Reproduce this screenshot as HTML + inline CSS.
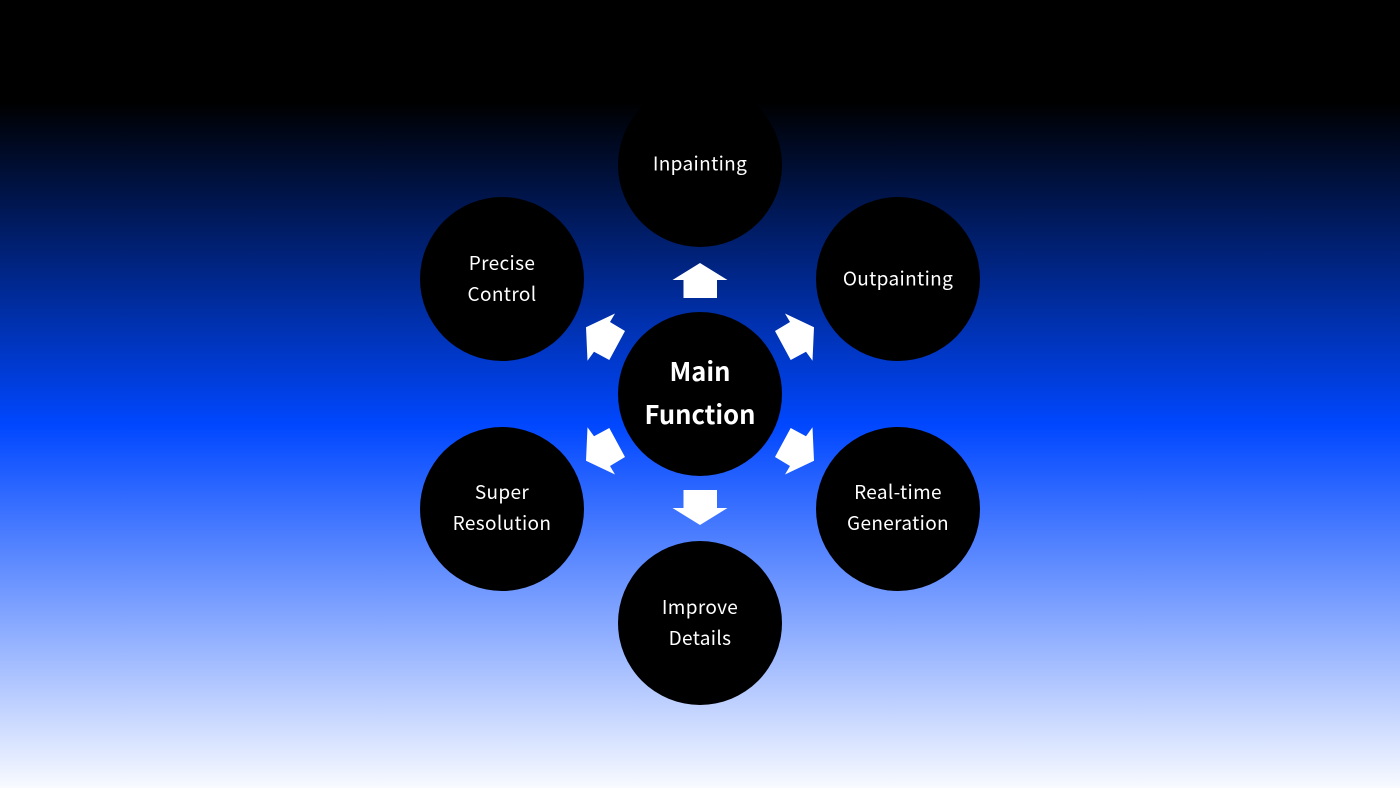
<!DOCTYPE html>
<html><head><meta charset="utf-8"><style>
html,body{margin:0;padding:0;background:#000}
svg{display:block}
text{font-family:"Noto Sans CJK SC","Liberation Sans",sans-serif;fill:#fff;text-anchor:middle;font-size:19px;letter-spacing:0.35px;font-weight:400}
.b{font-size:25.5px;font-weight:700;letter-spacing:0}
circle{fill:#000}
polygon{fill:#fff}
</style></head><body>
<svg width="1400" height="788" viewBox="0 0 1400 788" xmlns="http://www.w3.org/2000/svg">
<defs><linearGradient id="g" x1="0" y1="0" x2="0" y2="788" gradientUnits="userSpaceOnUse">
<stop offset="0" stop-color="#000"/>
<stop offset="0.13" stop-color="#000"/>
<stop offset="0.54" stop-color="#0047ff"/>
<stop offset="1" stop-color="#f8faff"/>
</linearGradient></defs>
<rect width="1400" height="788" fill="url(#g)"/>
<circle cx="700" cy="165" r="82"/>
<circle cx="502" cy="279" r="82"/>
<circle cx="898" cy="279" r="82"/>
<circle cx="502" cy="509" r="82"/>
<circle cx="898" cy="509" r="82"/>
<circle cx="700" cy="623" r="82"/>
<circle cx="700" cy="394" r="82"/>
<polygon points="700,263 727.5,280 717,280 717,298 683.5,298 683.5,280 672.5,280"/>
<polygon points="700,525 727.5,508 717,508 717,490 683.5,490 683.5,508 672.5,508"/>
<polygon points="615,313.5 610,322 625,331 609.3,360 594,351.7 587.5,360.7 586,327.3"/>
<polygon points="785,313.5 790,322 775,331 790.7,360 806,351.7 812.5,360.7 814,327.3"/>
<polygon points="615,474.5 610,466 625,457 609.3,428 594,436.3 587.5,427.3 586,460.7"/>
<polygon points="785,474.5 790,466 775,457 790.7,428 806,436.3 812.5,427.3 814,460.7"/>
<text x="700" y="170.5">Inpainting</text>
<text x="502" y="270">Precise</text>
<text x="502" y="301">Control</text>
<text x="898" y="285.5">Outpainting</text>
<text x="502" y="499">Super</text>
<text x="502" y="530">Resolution</text>
<text x="898" y="499">Real-time</text>
<text x="898" y="530">Generation</text>
<text x="700" y="614">Improve</text>
<text x="700" y="645">Details</text>
<text class="b" x="700" y="381">Main</text>
<text class="b" x="700" y="424">Function</text>
</svg>
</body></html>
